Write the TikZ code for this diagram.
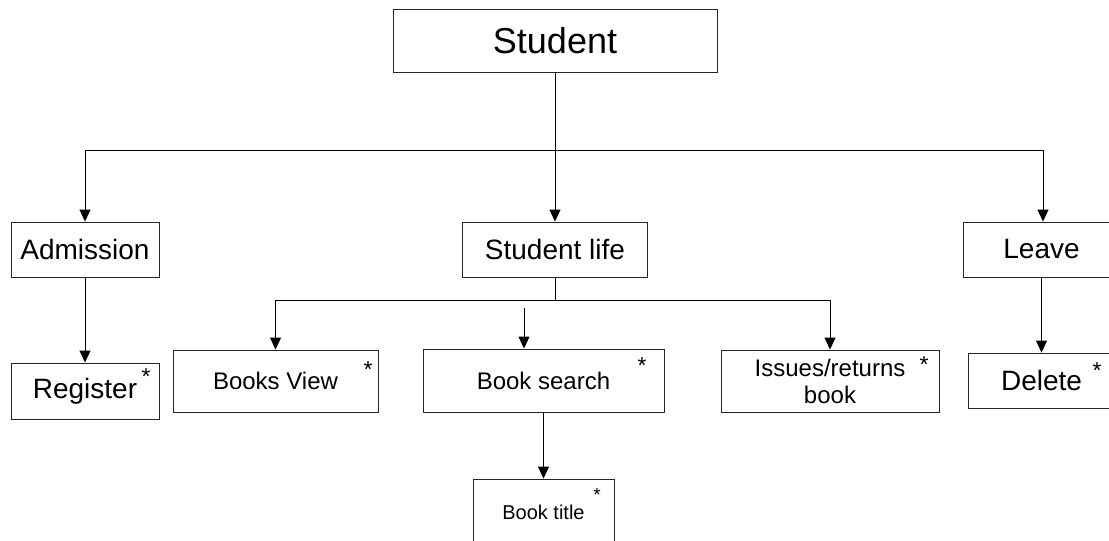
\documentclass[tikz,border=0pt]{standalone}
\usepackage{fontspec}
\setmainfont{Liberation Sans}
\usetikzlibrary{arrows.meta}
\begin{document}
\begin{tikzpicture}[x=1pt,y=-1pt,
  box/.style={draw=black!85, line width=0.9pt, rectangle, inner sep=0pt, align=center},
  big/.style={font=\fontsize{36}{40}\selectfont},
  mid/.style={font=\fontsize{28}{32}\selectfont},
  small/.style={font=\fontsize{24}{27}\selectfont},
  tiny/.style={font=\fontsize{20}{23}\selectfont},
  link/.style={line width=0.9pt, draw=black},
  arr/.style={link, -{Triangle[width=11pt,length=12pt]}},
  star/.style={font=\fontsize{23}{23}\selectfont, inner sep=0pt, anchor=north}]
\useasboundingbox (0,0) rectangle (1109,541);
\clip (0,0) rectangle (1109,541);

% boxes
\node[box, big, minimum width=324pt, minimum height=63pt] (student) at (555,40.5) {Student};
\node[box, mid, minimum width=148pt, minimum height=55pt] (admission) at (85,249.5) {Admission};
\node[box, mid, minimum width=185pt, minimum height=55pt] (slife) at (555,249.5) {Student life};
\node[box, mid, minimum width=157pt, minimum height=55pt] (leave) at (1041.5,249.5) {Leave};
\node[box, mid, minimum width=148pt, minimum height=56pt] (register) at (85,391) {Register};
\node[box, small, minimum width=205pt, minimum height=62pt] (bview) at (275.5,381) {Books View};
\node[box, small, minimum width=241pt, minimum height=63pt] (bsearch) at (543.5,380.5) {Book search};
\node[box, small, minimum width=218pt, minimum height=62pt] (issues) at (830,381) {Issues/returns\\book};
\node[box, mid, minimum width=147pt, minimum height=55pt] (delete) at (1041.5,380.5) {Delete};
\node[box, tiny, minimum width=141pt, minimum height=66pt] (btitle) at (543.5,512) {Book title};

% multiplicity marks
\node[star] (s1) at (146,368) {*};
\node[star] (s2) at (368,361) {*};
\node[star] (s3) at (642,357) {*};
\node[star] (s4) at (924,356) {*};
\node[star] (s5) at (1097,362) {*};
\node[star, font=\fontsize{19}{19}\selectfont] (s6) at (597,488) {*};

% top level branches
\coordinate (bus1) at (555,150);
\draw[link] (student.south) -- (bus1);
\draw[arr] (bus1) -| (admission.north);
\draw[arr] (bus1) -| ([xshift=1.5pt]leave.north);
\draw[arr] (bus1) -- (slife.north);

\draw[arr] (admission) -- (register);
\draw[arr] (leave) -- (delete);

% student life branches
\coordinate (bus2) at (555,300);
\draw[link] (slife.south) -- (bus2);
\draw[arr] (bus2) -| (bview.north);
\draw[arr] (bus2) -| (issues.north);
\coordinate (bsin) at (524,308);
\draw[arr] (bsin) -- (bsin |- bsearch.north);

\draw[arr] (bsearch) -- (btitle);
\end{tikzpicture}
\end{document}
